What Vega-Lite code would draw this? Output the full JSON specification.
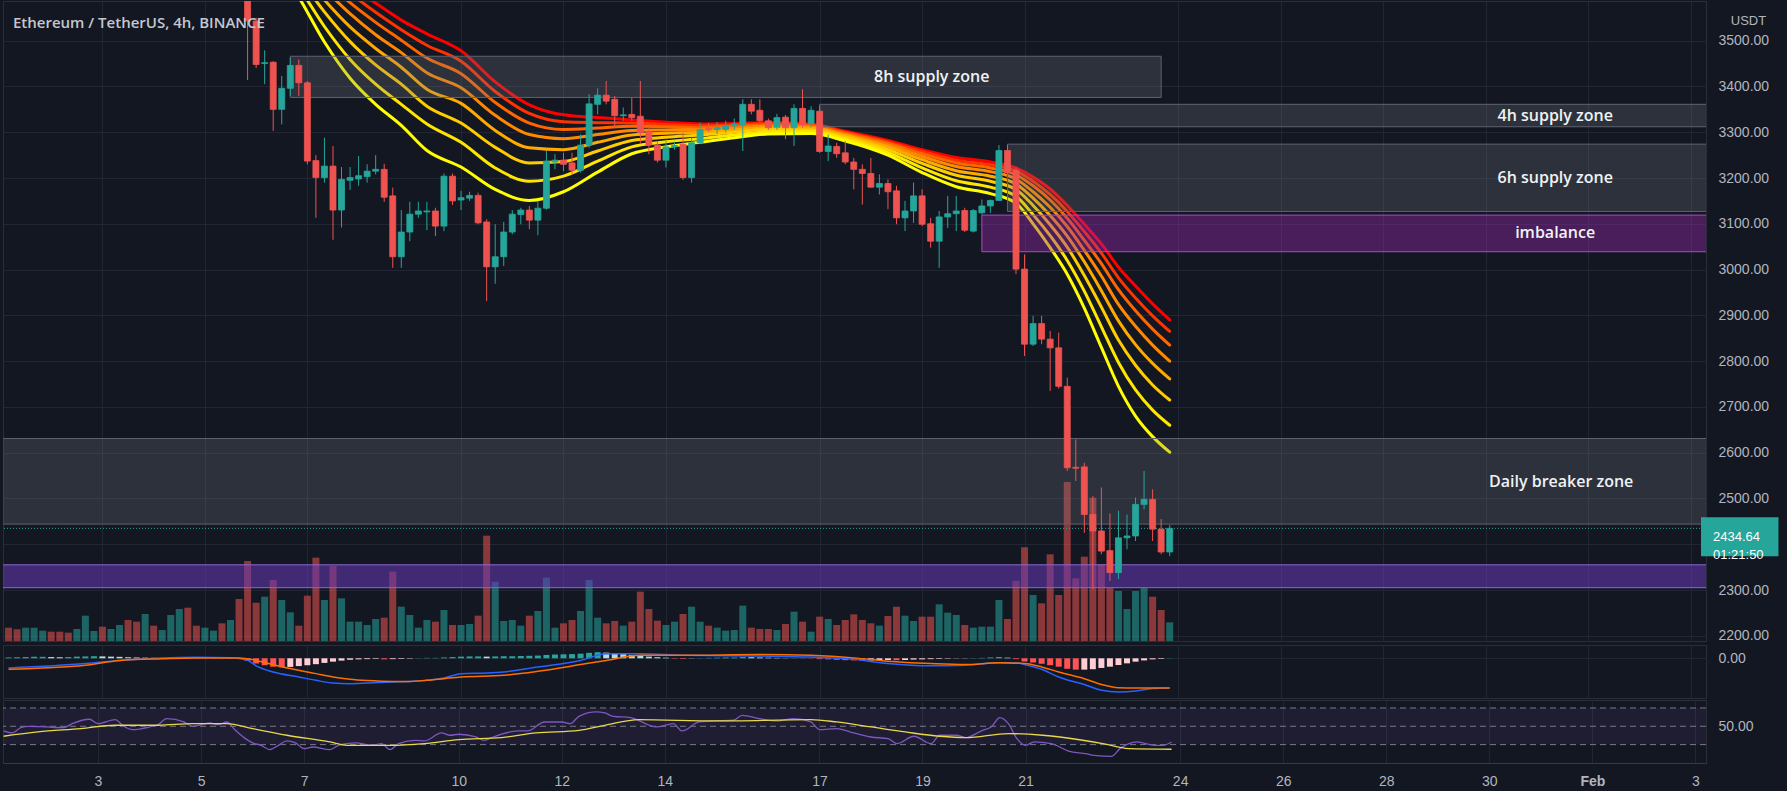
{
"$schema": "https://vega.github.io/schema/vega-lite/v6.json",
"background": "#131722",
"padding": 0,
"spacing": 0,
"config": {
  "view": {"stroke": "#2a2e39", "strokeWidth": 1},
  "font": "Liberation Sans",
  "axis": {"gridColor": "#222633", "gridWidth": 1, "domain": false, "ticks": false, "labelColor": "#b2b5be", "labelFont": "Liberation Sans", "labelFontSize": 14, "titleColor": "#b2b5be"}
},
"resolve": {"scale": {"x": "independent", "y": "independent", "color": "independent"}},
"datasets": {
"bars": [
{"t":"2022-01-01T04:00:00Z","o":3700,"c":3690,"v":40,"m":4},
{"t":"2022-01-01T08:00:00Z","o":3690,"c":3680,"v":35,"m":5},
{"t":"2022-01-01T12:00:00Z","o":3680,"c":3705,"v":40,"m":6},
{"t":"2022-01-01T16:00:00Z","o":3705,"c":3720,"v":40,"m":7},
{"t":"2022-01-01T20:00:00Z","o":3720,"c":3740,"v":31,"m":7},
{"t":"2022-01-02T00:00:00Z","o":3740,"c":3733,"v":28,"m":6},
{"t":"2022-01-02T04:00:00Z","o":3733,"c":3728,"v":28,"m":5},
{"t":"2022-01-02T08:00:00Z","o":3728,"c":3722,"v":25,"m":6},
{"t":"2022-01-02T12:00:00Z","o":3722,"c":3760,"v":36,"m":8},
{"t":"2022-01-02T16:00:00Z","o":3760,"c":3815,"v":76,"m":9},
{"t":"2022-01-02T20:00:00Z","o":3815,"c":3829,"v":30,"m":10},
{"t":"2022-01-03T00:00:00Z","o":3829,"c":3800,"v":43,"m":9},
{"t":"2022-01-03T04:00:00Z","o":3800,"c":3812,"v":36,"m":8},
{"t":"2022-01-03T08:00:00Z","o":3812,"c":3830,"v":48,"m":7},
{"t":"2022-01-03T12:00:00Z","o":3830,"c":3790,"v":63,"m":5},
{"t":"2022-01-03T16:00:00Z","o":3790,"c":3745,"v":58,"m":4},
{"t":"2022-01-03T20:00:00Z","o":3745,"c":3765,"v":81,"m":3},
{"t":"2022-01-04T00:00:00Z","o":3765,"c":3750,"v":46,"m":3},
{"t":"2022-01-04T04:00:00Z","o":3750,"c":3760,"v":33,"m":2},
{"t":"2022-01-04T08:00:00Z","o":3760,"c":3800,"v":78,"m":2},
{"t":"2022-01-04T12:00:00Z","o":3800,"c":3840,"v":96,"m":1},
{"t":"2022-01-04T16:00:00Z","o":3840,"c":3790,"v":100,"m":1},
{"t":"2022-01-04T20:00:00Z","o":3790,"c":3780,"v":46,"m":1},
{"t":"2022-01-05T00:00:00Z","o":3780,"c":3790,"v":40,"m":0.5},
{"t":"2022-01-05T04:00:00Z","o":3790,"c":3800,"v":31,"m":0.5},
{"t":"2022-01-05T08:00:00Z","o":3800,"c":3780,"v":53,"m":0.3},
{"t":"2022-01-05T12:00:00Z","o":3780,"c":3810,"v":63,"m":-1},
{"t":"2022-01-05T16:00:00Z","o":3810,"c":3660,"v":126,"m":-3},
{"t":"2022-01-05T20:00:00Z","o":3660,"h":3680,"l":3414,"c":3543,"v":240,"m":-12},
{"t":"2022-01-06T00:00:00Z","o":3543,"h":3550,"l":3440,"c":3448,"v":115,"m":-25},
{"t":"2022-01-06T04:00:00Z","o":3450,"h":3479,"l":3405,"c":3452,"v":133,"m":-33},
{"t":"2022-01-06T08:00:00Z","o":3453,"h":3455,"l":3303,"c":3350,"v":183,"m":-40},
{"t":"2022-01-06T12:00:00Z","o":3350,"h":3423,"l":3317,"c":3396,"v":123,"m":-43},
{"t":"2022-01-06T16:00:00Z","o":3396,"h":3463,"l":3379,"c":3446,"v":86,"m":-41},
{"t":"2022-01-06T20:00:00Z","o":3446,"h":3459,"l":3379,"c":3408,"v":46,"m":-37},
{"t":"2022-01-07T00:00:00Z","o":3408,"h":3412,"l":3230,"c":3237,"v":136,"m":-33},
{"t":"2022-01-07T04:00:00Z","o":3238,"h":3250,"l":3113,"c":3201,"v":250,"m":-28},
{"t":"2022-01-07T08:00:00Z","o":3201,"h":3288,"l":3190,"c":3226,"v":123,"m":-22},
{"t":"2022-01-07T12:00:00Z","o":3226,"h":3270,"l":3065,"c":3130,"v":225,"m":-16},
{"t":"2022-01-07T16:00:00Z","o":3130,"h":3224,"l":3092,"c":3197,"v":128,"m":-11},
{"t":"2022-01-07T20:00:00Z","o":3195,"h":3224,"l":3174,"c":3201,"v":58,"m":-7},
{"t":"2022-01-08T00:00:00Z","o":3198,"h":3248,"l":3183,"c":3205,"v":58,"m":-5},
{"t":"2022-01-08T04:00:00Z","o":3203,"h":3230,"l":3190,"c":3215,"v":48,"m":-4},
{"t":"2022-01-08T08:00:00Z","o":3215,"h":3250,"l":3208,"c":3219,"v":66,"m":-3},
{"t":"2022-01-08T12:00:00Z","o":3219,"h":3231,"l":3148,"c":3158,"v":70,"m":-5},
{"t":"2022-01-08T16:00:00Z","o":3161,"h":3179,"l":3004,"c":3028,"v":208,"m":-4},
{"t":"2022-01-08T20:00:00Z","o":3028,"h":3130,"l":3004,"c":3082,"v":103,"m":-3},
{"t":"2022-01-09T00:00:00Z","o":3082,"h":3148,"l":3062,"c":3121,"v":78,"m":-2},
{"t":"2022-01-09T04:00:00Z","o":3121,"h":3148,"l":3113,"c":3128,"v":40,"m":1},
{"t":"2022-01-09T08:00:00Z","o":3126,"h":3148,"l":3086,"c":3128,"v":63,"m":2},
{"t":"2022-01-09T12:00:00Z","o":3128,"h":3135,"l":3073,"c":3095,"v":58,"m":2},
{"t":"2022-01-09T16:00:00Z","o":3095,"h":3210,"l":3084,"c":3204,"v":93,"m":4},
{"t":"2022-01-09T20:00:00Z","o":3204,"h":3210,"l":3141,"c":3150,"v":48,"m":6},
{"t":"2022-01-10T00:00:00Z","o":3152,"h":3172,"l":3130,"c":3157,"v":48,"m":8},
{"t":"2022-01-10T04:00:00Z","o":3156,"h":3170,"l":3150,"c":3162,"v":51,"m":9},
{"t":"2022-01-10T08:00:00Z","o":3162,"h":3168,"l":3099,"c":3102,"v":76,"m":9},
{"t":"2022-01-10T12:00:00Z","o":3104,"h":3110,"l":2931,"c":3006,"v":316,"m":8},
{"t":"2022-01-10T16:00:00Z","o":3006,"h":3099,"l":2969,"c":3028,"v":178,"m":9},
{"t":"2022-01-10T20:00:00Z","o":3028,"h":3104,"l":3008,"c":3082,"v":60,"m":10},
{"t":"2022-01-11T00:00:00Z","o":3082,"h":3130,"l":3077,"c":3121,"v":63,"m":10},
{"t":"2022-01-11T04:00:00Z","o":3120,"h":3135,"l":3099,"c":3130,"v":46,"m":11},
{"t":"2022-01-11T08:00:00Z","o":3130,"h":3139,"l":3088,"c":3108,"v":76,"m":12},
{"t":"2022-01-11T12:00:00Z","o":3108,"h":3150,"l":3075,"c":3134,"v":90,"m":13},
{"t":"2022-01-11T16:00:00Z","o":3134,"h":3259,"l":3131,"c":3237,"v":190,"m":16},
{"t":"2022-01-11T20:00:00Z","o":3235,"h":3252,"l":3219,"c":3239,"v":40,"m":18},
{"t":"2022-01-12T00:00:00Z","o":3239,"h":3255,"l":3215,"c":3230,"v":53,"m":19},
{"t":"2022-01-12T04:00:00Z","o":3233,"h":3255,"l":3208,"c":3217,"v":63,"m":20},
{"t":"2022-01-12T08:00:00Z","o":3217,"h":3295,"l":3212,"c":3272,"v":90,"m":22},
{"t":"2022-01-12T12:00:00Z","o":3272,"h":3383,"l":3266,"c":3362,"v":183,"m":26},
{"t":"2022-01-12T16:00:00Z","o":3361,"h":3396,"l":3339,"c":3381,"v":70,"m":29},
{"t":"2022-01-12T20:00:00Z","o":3381,"h":3412,"l":3361,"c":3368,"v":53,"m":27},
{"t":"2022-01-13T00:00:00Z","o":3372,"h":3379,"l":3310,"c":3336,"v":60,"m":25},
{"t":"2022-01-13T04:00:00Z","o":3336,"h":3354,"l":3325,"c":3338,"v":46,"m":20},
{"t":"2022-01-13T08:00:00Z","o":3339,"h":3376,"l":3325,"c":3332,"v":58,"m":16},
{"t":"2022-01-13T12:00:00Z","o":3335,"h":3412,"l":3274,"c":3299,"v":148,"m":12},
{"t":"2022-01-13T16:00:00Z","o":3301,"h":3317,"l":3252,"c":3272,"v":96,"m":8},
{"t":"2022-01-13T20:00:00Z","o":3272,"h":3281,"l":3234,"c":3239,"v":61,"m":5},
{"t":"2022-01-14T00:00:00Z","o":3239,"h":3281,"l":3223,"c":3268,"v":48,"m":3},
{"t":"2022-01-14T04:00:00Z","o":3268,"h":3280,"l":3262,"c":3271,"v":58,"m":-2},
{"t":"2022-01-14T08:00:00Z","o":3274,"h":3299,"l":3196,"c":3201,"v":81,"m":-3},
{"t":"2022-01-14T12:00:00Z","o":3201,"h":3288,"l":3190,"c":3277,"v":103,"m":-1},
{"t":"2022-01-14T16:00:00Z","o":3277,"h":3321,"l":3274,"c":3306,"v":58,"m":1},
{"t":"2022-01-14T20:00:00Z","o":3309,"h":3320,"l":3300,"c":3306,"v":46,"m":2},
{"t":"2022-01-15T00:00:00Z","o":3306,"h":3322,"l":3296,"c":3310,"v":40,"m":3},
{"t":"2022-01-15T04:00:00Z","o":3306,"h":3325,"l":3299,"c":3314,"v":31,"m":4},
{"t":"2022-01-15T08:00:00Z","o":3314,"h":3330,"l":3305,"c":3318,"v":33,"m":4},
{"t":"2022-01-15T12:00:00Z","o":3316,"h":3372,"l":3259,"c":3361,"v":106,"m":6},
{"t":"2022-01-15T16:00:00Z","o":3361,"h":3372,"l":3339,"c":3346,"v":40,"m":5},
{"t":"2022-01-15T20:00:00Z","o":3348,"h":3372,"l":3321,"c":3325,"v":36,"m":4},
{"t":"2022-01-16T00:00:00Z","o":3325,"h":3330,"l":3305,"c":3310,"v":36,"m":3},
{"t":"2022-01-16T04:00:00Z","o":3311,"h":3340,"l":3305,"c":3332,"v":33,"m":2},
{"t":"2022-01-16T08:00:00Z","o":3333,"h":3338,"l":3285,"c":3310,"v":51,"m":1},
{"t":"2022-01-16T12:00:00Z","o":3310,"h":3361,"l":3270,"c":3352,"v":88,"m":1},
{"t":"2022-01-16T16:00:00Z","o":3352,"h":3394,"l":3310,"c":3317,"v":58,"m":0.5},
{"t":"2022-01-16T20:00:00Z","o":3319,"h":3357,"l":3310,"c":3348,"v":28,"m":-1},
{"t":"2022-01-17T00:00:00Z","o":3346,"h":3357,"l":3255,"c":3258,"v":73,"m":-4},
{"t":"2022-01-17T04:00:00Z","o":3258,"h":3295,"l":3237,"c":3270,"v":66,"m":-5},
{"t":"2022-01-17T08:00:00Z","o":3269,"h":3277,"l":3244,"c":3253,"v":48,"m":-7},
{"t":"2022-01-17T12:00:00Z","o":3255,"h":3281,"l":3230,"c":3235,"v":63,"m":-9},
{"t":"2022-01-17T16:00:00Z","o":3235,"h":3244,"l":3175,"c":3219,"v":80,"m":-10},
{"t":"2022-01-17T20:00:00Z","o":3219,"h":3230,"l":3142,"c":3210,"v":63,"m":-11},
{"t":"2022-01-18T00:00:00Z","o":3210,"h":3244,"l":3179,"c":3180,"v":53,"m":-10},
{"t":"2022-01-18T04:00:00Z","o":3180,"h":3208,"l":3164,"c":3188,"v":46,"m":-9},
{"t":"2022-01-18T08:00:00Z","o":3188,"h":3197,"l":3132,"c":3170,"v":75,"m":-8},
{"t":"2022-01-18T12:00:00Z","o":3172,"h":3183,"l":3099,"c":3113,"v":103,"m":-9},
{"t":"2022-01-18T16:00:00Z","o":3113,"h":3150,"l":3084,"c":3128,"v":76,"m":-8},
{"t":"2022-01-18T20:00:00Z","o":3128,"h":3190,"l":3102,"c":3161,"v":60,"m":-6},
{"t":"2022-01-19T00:00:00Z","o":3161,"h":3175,"l":3095,"c":3099,"v":73,"m":-5},
{"t":"2022-01-19T04:00:00Z","o":3100,"h":3113,"l":3048,"c":3062,"v":73,"m":-4},
{"t":"2022-01-19T08:00:00Z","o":3062,"h":3128,"l":3004,"c":3115,"v":110,"m":-3},
{"t":"2022-01-19T12:00:00Z","o":3115,"h":3161,"l":3091,"c":3122,"v":85,"m":-2},
{"t":"2022-01-19T16:00:00Z","o":3122,"h":3161,"l":3084,"c":3128,"v":78,"m":-1},
{"t":"2022-01-19T20:00:00Z","o":3129,"h":3135,"l":3082,"c":3086,"v":48,"m":-1},
{"t":"2022-01-20T00:00:00Z","o":3084,"h":3132,"l":3081,"c":3129,"v":40,"m":1},
{"t":"2022-01-20T04:00:00Z","o":3124,"h":3153,"l":3120,"c":3139,"v":43,"m":2},
{"t":"2022-01-20T08:00:00Z","o":3139,"h":3153,"l":3124,"c":3151,"v":43,"m":4},
{"t":"2022-01-20T12:00:00Z","o":3151,"h":3272,"l":3150,"c":3260,"v":123,"m":6},
{"t":"2022-01-20T16:00:00Z","o":3260,"h":3272,"l":3208,"c":3212,"v":66,"m":3},
{"t":"2022-01-20T20:00:00Z","o":3217,"h":3223,"l":2990,"c":3001,"v":180,"m":-4},
{"t":"2022-01-21T00:00:00Z","o":3001,"h":3033,"l":2811,"c":2837,"v":281,"m":-15},
{"t":"2022-01-21T04:00:00Z","o":2837,"h":2899,"l":2833,"c":2882,"v":138,"m":-20},
{"t":"2022-01-21T08:00:00Z","o":2882,"h":2899,"l":2837,"c":2848,"v":113,"m":-26},
{"t":"2022-01-21T12:00:00Z","o":2848,"h":2866,"l":2735,"c":2829,"v":260,"m":-33},
{"t":"2022-01-21T16:00:00Z","o":2829,"h":2862,"l":2740,"c":2745,"v":138,"m":-40},
{"t":"2022-01-21T20:00:00Z","o":2745,"h":2764,"l":2560,"c":2567,"v":477,"m":-50},
{"t":"2022-01-22T00:00:00Z","o":2568,"h":2629,"l":2538,"c":2566,"v":188,"m":-54},
{"t":"2022-01-22T04:00:00Z","o":2569,"h":2578,"l":2425,"c":2465,"v":253,"m":-54},
{"t":"2022-01-22T08:00:00Z","o":2465,"h":2505,"l":2302,"c":2429,"v":430,"m":-52},
{"t":"2022-01-22T12:00:00Z","o":2429,"h":2524,"l":2378,"c":2385,"v":230,"m":-46},
{"t":"2022-01-22T16:00:00Z","o":2386,"h":2467,"l":2320,"c":2338,"v":160,"m":-40},
{"t":"2022-01-22T20:00:00Z","o":2338,"h":2473,"l":2324,"c":2414,"v":150,"m":-32},
{"t":"2022-01-23T00:00:00Z","o":2414,"h":2465,"l":2389,"c":2418,"v":96,"m":-24},
{"t":"2022-01-23T04:00:00Z","o":2418,"h":2502,"l":2407,"c":2487,"v":150,"m":-16},
{"t":"2022-01-23T08:00:00Z","o":2487,"h":2560,"l":2476,"c":2498,"v":160,"m":-10},
{"t":"2022-01-23T12:00:00Z","o":2498,"h":2520,"l":2407,"c":2433,"v":133,"m":-5},
{"t":"2022-01-23T16:00:00Z","o":2433,"h":2455,"l":2378,"c":2383,"v":93,"m":-3},
{"t":"2022-01-23T20:00:00Z","o":2383,"h":2442,"l":2374,"c":2434.64,"v":56,"m":1}
],
"ribbon": [
{"t":"2022-01-05T20:00:00Z","e1":3775,"e2":3772,"e3":3768,"e4":3764,"e5":3759,"e6":3754,"e7":3747,"e8":3740},
{"t":"2022-01-06T08:00:00Z","e1":3745,"e2":3739,"e3":3733,"e4":3725,"e5":3716,"e6":3705,"e7":3693,"e8":3680},
{"t":"2022-01-06T20:00:00Z","e1":3705,"e2":3695,"e3":3684,"e4":3671,"e5":3656,"e6":3638,"e7":3617,"e8":3595},
{"t":"2022-01-07T08:00:00Z","e1":3665,"e2":3650,"e3":3633,"e4":3613,"e5":3589,"e6":3563,"e7":3531,"e8":3497},
{"t":"2022-01-07T20:00:00Z","e1":3622,"e2":3604,"e3":3583,"e4":3559,"e5":3530,"e6":3498,"e7":3459,"e8":3418},
{"t":"2022-01-08T08:00:00Z","e1":3582,"e2":3562,"e3":3540,"e4":3513,"e5":3483,"e6":3447,"e7":3405,"e8":3361},
{"t":"2022-01-08T20:00:00Z","e1":3545,"e2":3524,"e3":3501,"e4":3474,"e5":3442,"e6":3405,"e7":3361,"e8":3315},
{"t":"2022-01-09T08:00:00Z","e1":3515,"e2":3490,"e3":3462,"e4":3430,"e5":3394,"e6":3357,"e7":3318,"e8":3260},
{"t":"2022-01-10T00:00:00Z","e1":3478,"e2":3455,"e3":3428,"e4":3397,"e5":3363,"e6":3320,"e7":3278,"e8":3224},
{"t":"2022-01-10T16:00:00Z","e1":3410,"e2":3389,"e3":3365,"e4":3337,"e5":3304,"e6":3267,"e7":3222,"e8":3175},
{"t":"2022-01-11T08:00:00Z","e1":3360,"e2":3341,"e3":3320,"e4":3295,"e5":3266,"e6":3233,"e7":3193,"e8":3151},
{"t":"2022-01-12T00:00:00Z","e1":3338,"e2":3323,"e3":3306,"e4":3286,"e5":3262,"e6":3236,"e7":3204,"e8":3170},
{"t":"2022-01-12T16:00:00Z","e1":3332,"e2":3321,"e3":3309,"e4":3295,"e5":3278,"e6":3259,"e7":3237,"e8":3213},
{"t":"2022-01-13T08:00:00Z","e1":3327,"e2":3320,"e3":3313,"e4":3304,"e5":3294,"e6":3282,"e7":3268,"e8":3253},
{"t":"2022-01-14T00:00:00Z","e1":3322,"e2":3317,"e3":3312,"e4":3305,"e5":3298,"e6":3289,"e7":3279,"e8":3268},
{"t":"2022-01-14T16:00:00Z","e1":3318,"e2":3314,"e3":3310,"e4":3306,"e5":3300,"e6":3294,"e7":3286,"e8":3278},
{"t":"2022-01-15T08:00:00Z","e1":3319,"e2":3316,"e3":3313,"e4":3309,"e5":3305,"e6":3300,"e7":3294,"e8":3288},
{"t":"2022-01-16T00:00:00Z","e1":3321,"e2":3319,"e3":3316,"e4":3313,"e5":3310,"e6":3306,"e7":3301,"e8":3296},
{"t":"2022-01-16T20:00:00Z","e1":3318,"e2":3316,"e3":3314,"e4":3311,"e5":3309,"e6":3305,"e7":3301,"e8":3297},
{"t":"2022-01-17T12:00:00Z","e1":3302,"e2":3300,"e3":3298,"e4":3295,"e5":3293,"e6":3289,"e7":3285,"e8":3281},
{"t":"2022-01-18T08:00:00Z","e1":3282,"e2":3279,"e3":3276,"e4":3272,"e5":3268,"e6":3262,"e7":3256,"e8":3250},
{"t":"2022-01-19T00:00:00Z","e1":3262,"e2":3258,"e3":3253,"e4":3247,"e5":3240,"e6":3232,"e7":3222,"e8":3212},
{"t":"2022-01-19T16:00:00Z","e1":3245,"e2":3239,"e3":3233,"e4":3225,"e5":3216,"e6":3206,"e7":3194,"e8":3181},
{"t":"2022-01-20T08:00:00Z","e1":3235,"e2":3229,"e3":3222,"e4":3214,"e5":3204,"e6":3193,"e7":3180,"e8":3166},
{"t":"2022-01-20T20:00:00Z","e1":3222,"e2":3215,"e3":3207,"e4":3198,"e5":3187,"e6":3175,"e7":3160,"e8":3145},
{"t":"2022-01-21T04:00:00Z","e1":3202,"e2":3193,"e3":3183,"e4":3170,"e5":3156,"e6":3140,"e7":3120,"e8":3100},
{"t":"2022-01-21T12:00:00Z","e1":3176,"e2":3164,"e3":3152,"e4":3136,"e5":3118,"e6":3098,"e7":3074,"e8":3048},
{"t":"2022-01-21T20:00:00Z","e1":3140,"e2":3127,"e3":3112,"e4":3094,"e5":3073,"e6":3049,"e7":3020,"e8":2990},
{"t":"2022-01-22T04:00:00Z","e1":3099,"e2":3083,"e3":3064,"e4":3042,"e5":3017,"e6":2987,"e7":2953,"e8":2916},
{"t":"2022-01-22T12:00:00Z","e1":3056,"e2":3036,"e3":3013,"e4":2986,"e5":2954,"e6":2918,"e7":2875,"e8":2830},
{"t":"2022-01-22T20:00:00Z","e1":3005,"e2":2982,"e3":2956,"e4":2924,"e5":2888,"e6":2846,"e7":2797,"e8":2745},
{"t":"2022-01-23T04:00:00Z","e1":2964,"e2":2938,"e3":2910,"e4":2876,"e5":2836,"e6":2791,"e7":2737,"e8":2680},
{"t":"2022-01-23T12:00:00Z","e1":2925,"e2":2899,"e3":2870,"e4":2835,"e5":2795,"e6":2748,"e7":2693,"e8":2635},
{"t":"2022-01-23T20:00:00Z","e1":2890,"e2":2865,"e3":2835,"e4":2800,"e5":2761,"e6":2715,"e7":2660,"e8":2601}
],
"zones": [
{"zone":"8h supply zone","kind":"supply","t1":"2022-01-06T16:00:00Z","t2":"2022-01-23T16:00:00Z","p1":3376,"p2":3466,"tl":"2022-01-19T04:30:00Z","pl":3421},
{"zone":"4h supply zone","kind":"supply","t1":"2022-01-17T00:00:00Z","t2":"2022-02-12T00:00:00Z","p1":3312,"p2":3361,"tl":"2022-01-31T08:36:00Z","pl":3336},
{"zone":"6h supply zone","kind":"supply","t1":"2022-01-20T16:00:00Z","t2":"2022-02-12T00:00:00Z","p1":3127,"p2":3274,"tl":"2022-01-31T08:36:00Z","pl":3200},
{"zone":"imbalance","kind":"imbalance","t1":"2022-01-20T04:00:00Z","t2":"2022-02-12T00:00:00Z","p1":3039,"p2":3119,"tl":"2022-01-31T08:36:00Z","pl":3079},
{"zone":"Daily breaker zone","kind":"supply","t1":"2021-12-28T00:00:00Z","t2":"2022-02-12T00:00:00Z","p1":2444,"p2":2631,"tl":"2022-01-31T11:24:00Z","pl":2537},
{"zone":"","kind":"band","t1":"2021-12-28T00:00:00Z","t2":"2022-02-12T00:00:00Z","p1":2305,"p2":2355}
],
"last": [{"price":2434.64,"countdown":"01:21:50","tag":"2434.64\n01:21:50"}],
"macd": [
{"t":"2022-01-01T04:00:00Z","s":"MACD","val":-46},{"t":"2022-01-02T16:00:00Z","s":"MACD","val":-25},{"t":"2022-01-03T08:00:00Z","s":"MACD","val":-10},{"t":"2022-01-04T04:00:00Z","s":"MACD","val":2},{"t":"2022-01-04T20:00:00Z","s":"MACD","val":5},{"t":"2022-01-05T12:00:00Z","s":"MACD","val":3},{"t":"2022-01-05T20:00:00Z","s":"MACD","val":-10},{"t":"2022-01-06T00:00:00Z","s":"MACD","val":-36},{"t":"2022-01-06T08:00:00Z","s":"MACD","val":-65},{"t":"2022-01-06T20:00:00Z","s":"MACD","val":-89},{"t":"2022-01-07T04:00:00Z","s":"MACD","val":-105},{"t":"2022-01-07T12:00:00Z","s":"MACD","val":-118},{"t":"2022-01-07T20:00:00Z","s":"MACD","val":-121},{"t":"2022-01-08T04:00:00Z","s":"MACD","val":-118},{"t":"2022-01-08T16:00:00Z","s":"MACD","val":-113},{"t":"2022-01-09T00:00:00Z","s":"MACD","val":-110},{"t":"2022-01-09T08:00:00Z","s":"MACD","val":-105},{"t":"2022-01-09T16:00:00Z","s":"MACD","val":-94},{"t":"2022-01-10T00:00:00Z","s":"MACD","val":-73},{"t":"2022-01-10T12:00:00Z","s":"MACD","val":-70},{"t":"2022-01-10T20:00:00Z","s":"MACD","val":-65},{"t":"2022-01-11T12:00:00Z","s":"MACD","val":-41},{"t":"2022-01-12T00:00:00Z","s":"MACD","val":-25},{"t":"2022-01-12T08:00:00Z","s":"MACD","val":-10},{"t":"2022-01-12T20:00:00Z","s":"MACD","val":22},{"t":"2022-01-13T12:00:00Z","s":"MACD","val":22},{"t":"2022-01-14T08:00:00Z","s":"MACD","val":14},{"t":"2022-01-15T20:00:00Z","s":"MACD","val":11},{"t":"2022-01-16T20:00:00Z","s":"MACD","val":6},{"t":"2022-01-17T16:00:00Z","s":"MACD","val":-5},{"t":"2022-01-18T08:00:00Z","s":"MACD","val":-25},{"t":"2022-01-19T04:00:00Z","s":"MACD","val":-36},{"t":"2022-01-19T20:00:00Z","s":"MACD","val":-33},{"t":"2022-01-20T12:00:00Z","s":"MACD","val":-21},{"t":"2022-01-20T20:00:00Z","s":"MACD","val":-21},{"t":"2022-01-21T00:00:00Z","s":"MACD","val":-30},{"t":"2022-01-21T08:00:00Z","s":"MACD","val":-52},{"t":"2022-01-21T16:00:00Z","s":"MACD","val":-89},{"t":"2022-01-22T04:00:00Z","s":"MACD","val":-125},{"t":"2022-01-22T12:00:00Z","s":"MACD","val":-152},{"t":"2022-01-22T20:00:00Z","s":"MACD","val":-160},{"t":"2022-01-23T04:00:00Z","s":"MACD","val":-156},{"t":"2022-01-23T12:00:00Z","s":"MACD","val":-144},{"t":"2022-01-23T20:00:00Z","s":"MACD","val":-141},
{"t":"2022-01-01T04:00:00Z","s":"Signal","val":-52},{"t":"2022-01-02T16:00:00Z","s":"Signal","val":-33},{"t":"2022-01-03T08:00:00Z","s":"Signal","val":-10},{"t":"2022-01-04T04:00:00Z","s":"Signal","val":-2},{"t":"2022-01-04T20:00:00Z","s":"Signal","val":2},{"t":"2022-01-05T16:00:00Z","s":"Signal","val":2},{"t":"2022-01-06T00:00:00Z","s":"Signal","val":-10},{"t":"2022-01-06T08:00:00Z","s":"Signal","val":-30},{"t":"2022-01-06T16:00:00Z","s":"Signal","val":-49},{"t":"2022-01-07T04:00:00Z","s":"Signal","val":-73},{"t":"2022-01-07T12:00:00Z","s":"Signal","val":-89},{"t":"2022-01-07T20:00:00Z","s":"Signal","val":-100},{"t":"2022-01-08T04:00:00Z","s":"Signal","val":-106},{"t":"2022-01-08T16:00:00Z","s":"Signal","val":-110},{"t":"2022-01-09T00:00:00Z","s":"Signal","val":-110},{"t":"2022-01-09T08:00:00Z","s":"Signal","val":-105},{"t":"2022-01-09T16:00:00Z","s":"Signal","val":-97},{"t":"2022-01-10T00:00:00Z","s":"Signal","val":-89},{"t":"2022-01-10T20:00:00Z","s":"Signal","val":-81},{"t":"2022-01-11T12:00:00Z","s":"Signal","val":-62},{"t":"2022-01-12T08:00:00Z","s":"Signal","val":-30},{"t":"2022-01-12T20:00:00Z","s":"Signal","val":-10},{"t":"2022-01-13T12:00:00Z","s":"Signal","val":14},{"t":"2022-01-14T08:00:00Z","s":"Signal","val":14},{"t":"2022-01-15T20:00:00Z","s":"Signal","val":18},{"t":"2022-01-16T20:00:00Z","s":"Signal","val":14},{"t":"2022-01-17T16:00:00Z","s":"Signal","val":2},{"t":"2022-01-18T08:00:00Z","s":"Signal","val":-14},{"t":"2022-01-19T04:00:00Z","s":"Signal","val":-25},{"t":"2022-01-19T20:00:00Z","s":"Signal","val":-30},{"t":"2022-01-20T12:00:00Z","s":"Signal","val":-21},{"t":"2022-01-21T00:00:00Z","s":"Signal","val":-25},{"t":"2022-01-21T08:00:00Z","s":"Signal","val":-41},{"t":"2022-01-21T16:00:00Z","s":"Signal","val":-65},{"t":"2022-01-22T04:00:00Z","s":"Signal","val":-97},{"t":"2022-01-22T12:00:00Z","s":"Signal","val":-125},{"t":"2022-01-22T20:00:00Z","s":"Signal","val":-140},{"t":"2022-01-23T04:00:00Z","s":"Signal","val":-141},{"t":"2022-01-23T20:00:00Z","s":"Signal","val":-141}
],
"rsi": [
{"t":"2022-01-01T04:00:00Z","s":"RSI","val":44.9},{"t":"2022-01-01T08:00:00Z","s":"RSI","val":42.7},{"t":"2022-01-01T12:00:00Z","s":"RSI","val":48.5},{"t":"2022-01-01T16:00:00Z","s":"RSI","val":50},{"t":"2022-01-02T00:00:00Z","s":"RSI","val":49.3},{"t":"2022-01-02T08:00:00Z","s":"RSI","val":48.5},{"t":"2022-01-02T12:00:00Z","s":"RSI","val":52.9},{"t":"2022-01-02T20:00:00Z","s":"RSI","val":57.7},{"t":"2022-01-03T00:00:00Z","s":"RSI","val":52.9},{"t":"2022-01-03T08:00:00Z","s":"RSI","val":57.3},{"t":"2022-01-03T12:00:00Z","s":"RSI","val":50},{"t":"2022-01-03T16:00:00Z","s":"RSI","val":46.4},{"t":"2022-01-04T00:00:00Z","s":"RSI","val":49.3},{"t":"2022-01-04T04:00:00Z","s":"RSI","val":51.8},{"t":"2022-01-04T08:00:00Z","s":"RSI","val":58.4},{"t":"2022-01-04T16:00:00Z","s":"RSI","val":54.7},{"t":"2022-01-04T20:00:00Z","s":"RSI","val":50},{"t":"2022-01-05T04:00:00Z","s":"RSI","val":53.6},{"t":"2022-01-05T08:00:00Z","s":"RSI","val":51.8},{"t":"2022-01-05T12:00:00Z","s":"RSI","val":54.7},{"t":"2022-01-05T16:00:00Z","s":"RSI","val":45.6},{"t":"2022-01-05T20:00:00Z","s":"RSI","val":37.6},{"t":"2022-01-06T00:00:00Z","s":"RSI","val":31.8},{"t":"2022-01-06T04:00:00Z","s":"RSI","val":29.2},{"t":"2022-01-06T08:00:00Z","s":"RSI","val":24.5},{"t":"2022-01-06T12:00:00Z","s":"RSI","val":29.2},{"t":"2022-01-06T16:00:00Z","s":"RSI","val":34},{"t":"2022-01-06T20:00:00Z","s":"RSI","val":31.8},{"t":"2022-01-07T00:00:00Z","s":"RSI","val":25.6},{"t":"2022-01-07T04:00:00Z","s":"RSI","val":27.4},{"t":"2022-01-07T12:00:00Z","s":"RSI","val":24.5},{"t":"2022-01-07T16:00:00Z","s":"RSI","val":29.2},{"t":"2022-01-07T20:00:00Z","s":"RSI","val":31.1},{"t":"2022-01-08T00:00:00Z","s":"RSI","val":31.8},{"t":"2022-01-08T08:00:00Z","s":"RSI","val":29.2},{"t":"2022-01-08T12:00:00Z","s":"RSI","val":31.1},{"t":"2022-01-08T16:00:00Z","s":"RSI","val":24.5},{"t":"2022-01-08T20:00:00Z","s":"RSI","val":31.1},{"t":"2022-01-09T04:00:00Z","s":"RSI","val":34.7},{"t":"2022-01-09T08:00:00Z","s":"RSI","val":34},{"t":"2022-01-09T16:00:00Z","s":"RSI","val":42.7},{"t":"2022-01-09T20:00:00Z","s":"RSI","val":40.2},{"t":"2022-01-10T00:00:00Z","s":"RSI","val":41.3},{"t":"2022-01-10T08:00:00Z","s":"RSI","val":38.3},{"t":"2022-01-10T12:00:00Z","s":"RSI","val":34.7},{"t":"2022-01-10T16:00:00Z","s":"RSI","val":38.3},{"t":"2022-01-11T00:00:00Z","s":"RSI","val":43.8},{"t":"2022-01-11T04:00:00Z","s":"RSI","val":44.9},{"t":"2022-01-11T08:00:00Z","s":"RSI","val":44.9},{"t":"2022-01-11T16:00:00Z","s":"RSI","val":54.7},{"t":"2022-01-12T00:00:00Z","s":"RSI","val":54.7},{"t":"2022-01-12T04:00:00Z","s":"RSI","val":52.9},{"t":"2022-01-12T08:00:00Z","s":"RSI","val":60.9},{"t":"2022-01-12T16:00:00Z","s":"RSI","val":65.7},{"t":"2022-01-12T20:00:00Z","s":"RSI","val":64.6},{"t":"2022-01-13T00:00:00Z","s":"RSI","val":60.9},{"t":"2022-01-13T08:00:00Z","s":"RSI","val":59.5},{"t":"2022-01-13T20:00:00Z","s":"RSI","val":49.3},{"t":"2022-01-14T04:00:00Z","s":"RSI","val":52.9},{"t":"2022-01-14T08:00:00Z","s":"RSI","val":44.9},{"t":"2022-01-14T16:00:00Z","s":"RSI","val":54.7},{"t":"2022-01-15T00:00:00Z","s":"RSI","val":55.8},{"t":"2022-01-15T08:00:00Z","s":"RSI","val":56.6},{"t":"2022-01-15T12:00:00Z","s":"RSI","val":62},{"t":"2022-01-15T20:00:00Z","s":"RSI","val":58.4},{"t":"2022-01-16T04:00:00Z","s":"RSI","val":55.8},{"t":"2022-01-16T12:00:00Z","s":"RSI","val":58.4},{"t":"2022-01-16T20:00:00Z","s":"RSI","val":54.7},{"t":"2022-01-17T00:00:00Z","s":"RSI","val":46.4},{"t":"2022-01-17T08:00:00Z","s":"RSI","val":47.5},{"t":"2022-01-17T16:00:00Z","s":"RSI","val":42.7},{"t":"2022-01-18T00:00:00Z","s":"RSI","val":38.3},{"t":"2022-01-18T08:00:00Z","s":"RSI","val":36.5},{"t":"2022-01-18T12:00:00Z","s":"RSI","val":31.1},{"t":"2022-01-18T20:00:00Z","s":"RSI","val":39.1},{"t":"2022-01-19T04:00:00Z","s":"RSI","val":31.1},{"t":"2022-01-19T08:00:00Z","s":"RSI","val":40.2},{"t":"2022-01-19T16:00:00Z","s":"RSI","val":40.2},{"t":"2022-01-19T20:00:00Z","s":"RSI","val":37.6},{"t":"2022-01-20T04:00:00Z","s":"RSI","val":45.6},{"t":"2022-01-20T08:00:00Z","s":"RSI","val":49.3},{"t":"2022-01-20T12:00:00Z","s":"RSI","val":59.5},{"t":"2022-01-20T16:00:00Z","s":"RSI","val":52.9},{"t":"2022-01-20T20:00:00Z","s":"RSI","val":36.5},{"t":"2022-01-21T00:00:00Z","s":"RSI","val":29.2},{"t":"2022-01-21T04:00:00Z","s":"RSI","val":32.9},{"t":"2022-01-21T12:00:00Z","s":"RSI","val":31.1},{"t":"2022-01-21T20:00:00Z","s":"RSI","val":23},{"t":"2022-01-22T04:00:00Z","s":"RSI","val":20.1},{"t":"2022-01-22T08:00:00Z","s":"RSI","val":18.3},{"t":"2022-01-22T16:00:00Z","s":"RSI","val":17.2},{"t":"2022-01-22T20:00:00Z","s":"RSI","val":25.6},{"t":"2022-01-23T04:00:00Z","s":"RSI","val":32.9},{"t":"2022-01-23T12:00:00Z","s":"RSI","val":29.2},{"t":"2022-01-23T16:00:00Z","s":"RSI","val":29.2},{"t":"2022-01-23T20:00:00Z","s":"RSI","val":32.9},
{"t":"2022-01-01T04:00:00Z","s":"MA","val":39.1},{"t":"2022-01-01T20:00:00Z","s":"MA","val":43.8},{"t":"2022-01-02T16:00:00Z","s":"MA","val":47.5},{"t":"2022-01-03T08:00:00Z","s":"MA","val":51.1},{"t":"2022-01-04T04:00:00Z","s":"MA","val":51.1},{"t":"2022-01-04T20:00:00Z","s":"MA","val":52.9},{"t":"2022-01-05T12:00:00Z","s":"MA","val":52.9},{"t":"2022-01-06T00:00:00Z","s":"MA","val":47.5},{"t":"2022-01-06T16:00:00Z","s":"MA","val":40.2},{"t":"2022-01-07T12:00:00Z","s":"MA","val":32.9},{"t":"2022-01-07T20:00:00Z","s":"MA","val":29.2},{"t":"2022-01-08T16:00:00Z","s":"MA","val":29.2},{"t":"2022-01-09T08:00:00Z","s":"MA","val":31.1},{"t":"2022-01-10T00:00:00Z","s":"MA","val":35.4},{"t":"2022-01-10T20:00:00Z","s":"MA","val":37.6},{"t":"2022-01-11T12:00:00Z","s":"MA","val":42.7},{"t":"2022-01-12T08:00:00Z","s":"MA","val":45.6},{"t":"2022-01-12T20:00:00Z","s":"MA","val":51.1},{"t":"2022-01-13T12:00:00Z","s":"MA","val":57.3},{"t":"2022-01-15T00:00:00Z","s":"MA","val":55.8},{"t":"2022-01-16T20:00:00Z","s":"MA","val":57.3},{"t":"2022-01-17T08:00:00Z","s":"MA","val":54.7},{"t":"2022-01-18T00:00:00Z","s":"MA","val":49.3},{"t":"2022-01-18T16:00:00Z","s":"MA","val":43.8},{"t":"2022-01-19T08:00:00Z","s":"MA","val":39.1},{"t":"2022-01-19T20:00:00Z","s":"MA","val":37.6},{"t":"2022-01-20T16:00:00Z","s":"MA","val":42},{"t":"2022-01-21T08:00:00Z","s":"MA","val":40.2},{"t":"2022-01-21T16:00:00Z","s":"MA","val":38.3},{"t":"2022-01-22T12:00:00Z","s":"MA","val":31.1},{"t":"2022-01-23T00:00:00Z","s":"MA","val":25.6},{"t":"2022-01-23T20:00:00Z","s":"MA","val":24.9}
],
"levels": [{"lv":70},{"lv":50},{"lv":30}],
"band": [{"hi":70,"lo":30}]
},
"vconcat": [
{
  "width": 1703, "height": 640,
  "title": {"text": "Ethereum / TetherUS, 4h, BINANCE", "anchor": "start", "frame": "group", "orient": "top", "offset": -37, "baseline": "middle", "dx": 10, "font": "Open Sans", "fontSize": 15, "fontWeight": 600, "color": "#c4c7cf"},
  "resolve": {"scale": {"y": "independent"}},
  "layer": [
    {
      "data": {"name": "bars"},
      "mark": {"type": "bar", "width": 7, "opacity": 0.55},
      "encoding": {
        "x": {"field": "t", "type": "temporal", "scale": {"type": "utc", "domain": [{"year":2022,"month":1,"date":1,"hours":3,"minutes":45,"utc":true},{"year":2022,"month":2,"date":3,"hours":4,"minutes":55,"utc":true}]},
              "axis": {"values": [{"year":2022,"month":1,"date":3,"utc":true},{"year":2022,"month":1,"date":5,"utc":true},{"year":2022,"month":1,"date":7,"utc":true},{"year":2022,"month":1,"date":10,"utc":true},{"year":2022,"month":1,"date":12,"utc":true},{"year":2022,"month":1,"date":14,"utc":true},{"year":2022,"month":1,"date":17,"utc":true},{"year":2022,"month":1,"date":19,"utc":true},{"year":2022,"month":1,"date":21,"utc":true},{"year":2022,"month":1,"date":24,"utc":true},{"year":2022,"month":1,"date":26,"utc":true},{"year":2022,"month":1,"date":28,"utc":true},{"year":2022,"month":1,"date":30,"utc":true},{"year":2022,"month":2,"date":1,"utc":true},{"year":2022,"month":2,"date":3,"utc":true}],
                       "labels": false, "ticks": false, "domain": false, "grid": true, "title": null, "minExtent": 0, "maxExtent": 0}},
        "y": {"field": "v", "type": "quantitative", "scale": {"domain": [0, 1920], "nice": false}, "axis": null},
        "color": {"condition": {"test": "datum.c >= datum.o", "value": "#26a69a"}, "value": "#ef5350"}
      }
    },
    {
      "layer": [
        {
          "data": {"name": "ribbon"},
          "transform": [{"fold": ["e1","e2","e3","e4","e5","e6","e7","e8"], "as": ["line", "p"]}],
          "mark": {"type": "line", "strokeWidth": 3, "clip": true, "interpolate": "monotone", "strokeCap": "round"},
          "encoding": {
            "x": {"field": "t", "type": "temporal", "scale": {"type": "utc", "domain": [{"year":2022,"month":1,"date":1,"hours":3,"minutes":45,"utc":true},{"year":2022,"month":2,"date":3,"hours":4,"minutes":55,"utc":true}]}},
            "y": {"field": "p", "type": "quantitative", "scale": {"domain": [2188.6, 3586.7], "nice": false, "zero": false},
                  "axis": {"orient": "right", "values": [2200,2300,2400,2500,2600,2700,2800,2900,3000,3100,3200,3300,3400,3500], "labelExpr": "datum.value == 2400 ? '' : format(datum.value, '.2f')", "grid": true, "ticks": false, "domain": false, "labelPadding": 12, "labelAlign": "left", "labelBaseline": "middle", "minExtent": 84, "maxExtent": 84,
                           "title": "USDT", "titleAngle": 0, "titleX": 42, "titleY": 19, "titleAlign": "center", "titleBaseline": "middle", "titleFontSize": 13, "titleFontWeight": "normal", "titleFont": "Liberation Sans"}},
            "color": {"field": "line", "type": "nominal", "scale": {"domain": ["e1","e2","e3","e4","e5","e6","e7","e8"], "range": ["#ff0000","#ff3300","#ff6600","#ff8800","#ffaa00","#ffcc00","#ffe600","#ffff00"]}, "legend": null}
          }
        },
        {
          "data": {"name": "zones"},
          "mark": {"type": "rect", "clip": true, "strokeWidth": 1},
          "encoding": {
            "x": {"field": "t1", "type": "temporal"},
            "x2": {"field": "t2"},
            "y": {"field": "p1", "type": "quantitative"},
            "y2": {"field": "p2"},
            "fill": {"field": "kind", "type": "nominal", "scale": {"domain": ["supply","imbalance","band"], "range": ["#787b86","#9c27b0","#673ab7"]}, "legend": null},
            "fillOpacity": {"field": "kind", "type": "nominal", "scale": {"domain": ["supply","imbalance","band"], "range": [0.26, 0.55, 0.6]}, "legend": null},
            "stroke": {"field": "kind", "type": "nominal", "scale": {"domain": ["supply","imbalance","band"], "range": ["#5f6270","#a94bc0","#8a6ad0"]}, "legend": null}
          }
        },
        {
          "data": {"name": "zones"},
          "transform": [{"filter": "datum.zone != ''"}],
          "mark": {"type": "text", "font": "Open Sans", "fontSize": 16, "fontWeight": 600, "color": "#f0f2f5", "baseline": "middle", "align": "center"},
          "encoding": {
            "x": {"field": "tl", "type": "temporal"},
            "y": {"field": "pl", "type": "quantitative"},
            "text": {"field": "zone"}
          }
        },
        {
          "data": {"name": "last"},
          "mark": {"type": "rule", "color": "#26a69a", "strokeDash": [1, 2], "strokeWidth": 1},
          "encoding": {"y": {"field": "price", "type": "quantitative"}}
        },
        {
          "data": {"name": "bars"},
          "transform": [{"filter": "isValid(datum.h)"}],
          "mark": {"type": "rule", "clip": true, "strokeWidth": 1},
          "encoding": {
            "x": {"field": "t", "type": "temporal"},
            "y": {"field": "l", "type": "quantitative"},
            "y2": {"field": "h"},
            "color": {"condition": {"test": "datum.c >= datum.o", "value": "#26a69a"}, "value": "#ef5350"}
          }
        },
        {
          "data": {"name": "bars"},
          "transform": [{"filter": "isValid(datum.h)"}],
          "mark": {"type": "bar", "clip": true, "width": 6, "strokeWidth": 0.8},
          "encoding": {
            "x": {"field": "t", "type": "temporal"},
            "y": {"field": "o", "type": "quantitative"},
            "y2": {"field": "c"},
            "color": {"condition": {"test": "datum.c >= datum.o", "value": "#26a69a"}, "value": "#ef5350"},
            "stroke": {"condition": {"test": "datum.c >= datum.o", "value": "#26a69a"}, "value": "#ef5350"}
          }
        },
        {
          "data": {"name": "last"},
          "mark": {"type": "rect", "color": "#26a69a", "yOffset": -11, "y2Offset": 28, "clip": false},
          "encoding": {
            "x": {"datum": {"year":2022,"month":2,"date":3,"hours":4,"minutes":55,"utc":true}, "type": "temporal"},
            "x2": {"datum": {"year":2022,"month":2,"date":4,"hours":17,"minutes":13,"utc":true}},
            "y": {"field": "price", "type": "quantitative"},
            "y2": {"field": "price"}
          }
        },
        {
          "data": {"name": "last"},
          "mark": {"type": "text", "align": "left", "baseline": "middle", "color": "#ffffff", "font": "Liberation Sans", "fontSize": 13, "dx": 12, "dy": 9, "lineBreak": "\n", "lineHeight": 18, "clip": false},
          "encoding": {
            "x": {"datum": {"year":2022,"month":2,"date":3,"hours":4,"minutes":55,"utc":true}, "type": "temporal"},
            "y": {"field": "price", "type": "quantitative"},
            "text": {"field": "tag"}
          }
        }
      ]
    }
  ]
},
{
  "width": 1703, "height": 53,
  "layer": [
    {
      "data": {"name": "bars"},
      "transform": [{"window": [{"op": "lag", "field": "m", "as": "mp"}], "sort": [{"field": "t", "order": "ascending"}]}],
      "mark": {"type": "bar", "width": 6},
      "encoding": {
        "x": {"field": "t", "type": "temporal", "scale": {"type": "utc", "domain": [{"year":2022,"month":1,"date":1,"hours":3,"minutes":45,"utc":true},{"year":2022,"month":2,"date":3,"hours":4,"minutes":55,"utc":true}]},
              "axis": {"values": [{"year":2022,"month":1,"date":3,"utc":true},{"year":2022,"month":1,"date":5,"utc":true},{"year":2022,"month":1,"date":7,"utc":true},{"year":2022,"month":1,"date":10,"utc":true},{"year":2022,"month":1,"date":12,"utc":true},{"year":2022,"month":1,"date":14,"utc":true},{"year":2022,"month":1,"date":17,"utc":true},{"year":2022,"month":1,"date":19,"utc":true},{"year":2022,"month":1,"date":21,"utc":true},{"year":2022,"month":1,"date":24,"utc":true},{"year":2022,"month":1,"date":26,"utc":true},{"year":2022,"month":1,"date":28,"utc":true},{"year":2022,"month":1,"date":30,"utc":true},{"year":2022,"month":2,"date":1,"utc":true},{"year":2022,"month":2,"date":3,"utc":true}],
                       "labels": false, "ticks": false, "domain": false, "grid": true, "title": null, "minExtent": 0, "maxExtent": 0}},
        "y": {"field": "m", "type": "quantitative", "scale": {"domain": [-189, 63.3], "nice": false, "zero": false},
              "axis": {"orient": "right", "values": [0], "format": ".2f", "grid": true, "ticks": false, "domain": false, "labelPadding": 12, "labelAlign": "left", "labelBaseline": "middle", "minExtent": 84, "maxExtent": 84, "title": null}},
        "color": {"condition": [
          {"test": "datum.m >= 0 && (datum.mp == null || datum.m >= datum.mp)", "value": "#26a69a"},
          {"test": "datum.m >= 0", "value": "#b2dfdb"},
          {"test": "datum.mp == null || datum.m < datum.mp", "value": "#ff5252"}
        ], "value": "#ffcdd2"}
      }
    },
    {
      "data": {"name": "macd"},
      "mark": {"type": "line", "strokeWidth": 1.5, "interpolate": "monotone"},
      "encoding": {
        "x": {"field": "t", "type": "temporal"},
        "y": {"field": "val", "type": "quantitative"},
        "color": {"field": "s", "type": "nominal", "scale": {"domain": ["MACD", "Signal"], "range": ["#2962ff", "#ff6d00"]}, "legend": null}
      }
    }
  ]
},
{
  "width": 1703, "height": 63,
  "layer": [
    {
      "data": {"name": "band"},
      "mark": {"type": "rect", "color": "#7e57c2", "opacity": 0.1},
      "encoding": {
        "y": {"field": "hi", "type": "quantitative", "scale": {"domain": [9.9, 78.7], "nice": false, "zero": false},
              "axis": {"orient": "right", "values": [50], "format": ".2f", "grid": false, "ticks": false, "domain": false, "labelPadding": 12, "labelAlign": "left", "labelBaseline": "middle", "minExtent": 84, "maxExtent": 84, "title": null}},
        "y2": {"field": "lo"}
      }
    },
    {
      "data": {"name": "levels"},
      "mark": {"type": "rule", "color": "#787b86", "strokeDash": [6, 4], "strokeWidth": 1},
      "encoding": {"y": {"field": "lv", "type": "quantitative"}}
    },
    {
      "data": {"name": "rsi"},
      "mark": {"type": "line", "strokeWidth": 1.3, "interpolate": "monotone"},
      "encoding": {
        "x": {"field": "t", "type": "temporal", "scale": {"type": "utc", "domain": [{"year":2022,"month":1,"date":1,"hours":3,"minutes":45,"utc":true},{"year":2022,"month":2,"date":3,"hours":4,"minutes":55,"utc":true}]},
              "axis": {"values": [{"year":2022,"month":1,"date":3,"utc":true},{"year":2022,"month":1,"date":5,"utc":true},{"year":2022,"month":1,"date":7,"utc":true},{"year":2022,"month":1,"date":10,"utc":true},{"year":2022,"month":1,"date":12,"utc":true},{"year":2022,"month":1,"date":14,"utc":true},{"year":2022,"month":1,"date":17,"utc":true},{"year":2022,"month":1,"date":19,"utc":true},{"year":2022,"month":1,"date":21,"utc":true},{"year":2022,"month":1,"date":24,"utc":true},{"year":2022,"month":1,"date":26,"utc":true},{"year":2022,"month":1,"date":28,"utc":true},{"year":2022,"month":1,"date":30,"utc":true},{"year":2022,"month":2,"date":1,"utc":true},{"year":2022,"month":2,"date":3,"utc":true}],
                       "labelExpr": "utcdate(datum.value) == 1 ? 'Feb' : '' + utcdate(datum.value)",
                       "labelFontWeight": {"condition": {"test": "utcdate(datum.value) == 1", "value": "bold"}, "value": "normal"},
                       "ticks": false, "domain": true, "domainColor": "#363a45", "grid": true, "title": null, "labelPadding": 11, "labelFontSize": 14, "labelOverlap": false, "labelFlush": false, "labelBound": false, "minExtent": 35, "maxExtent": 35}},
        "y": {"field": "val", "type": "quantitative"},
        "color": {"field": "s", "type": "nominal", "scale": {"domain": ["RSI", "MA"], "range": ["#7e57c2", "#e8d84a"]}, "legend": null}
      }
    }
  ]
}
]
}
